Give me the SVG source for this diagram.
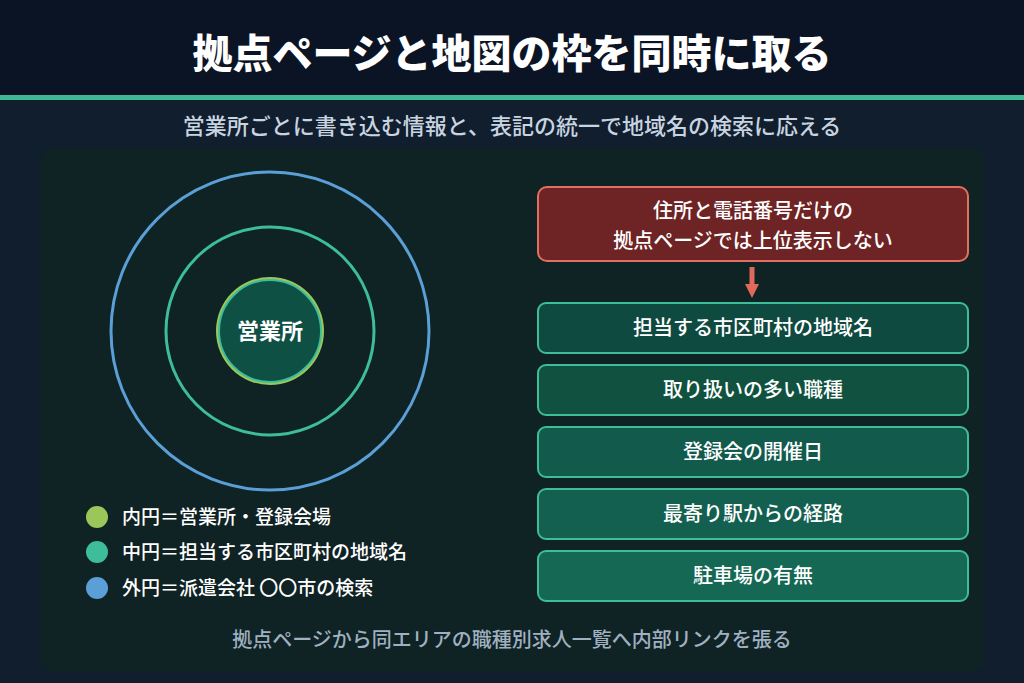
<svg xmlns="http://www.w3.org/2000/svg" width="1024" height="683" viewBox="0 0 1024 683">
<style>
text{font-family:"Noto Sans CJK JP","Noto Sans",sans-serif;text-anchor:middle}
.box{stroke:#3dbd9a;stroke-width:2}
.bt{fill:#ffffff;font-size:20px;font-weight:500}
.lg{fill:#ffffff;font-size:19px;font-weight:500;text-anchor:start}
</style>
<defs>
<marker id="ah" markerWidth="16" markerHeight="14" refX="0" refY="7" orient="auto" markerUnits="userSpaceOnUse"><path d="M0,0 L14,7 L0,14 Z" fill="#e06a5a"/></marker>
</defs>
<rect x="0" y="0" width="1024" height="683" fill="#111e2e"/>
<rect x="0" y="0" width="1024" height="95" fill="#0b1424"/>
<rect x="0" y="95" width="1024" height="5" fill="#3fb894"/>
<text x="512" y="68" fill="#ffffff" font-size="40" font-weight="900">拠点ページと地図の枠を同時に取る</text>
<text x="512" y="134" fill="#c8d4e0" font-size="22" font-weight="500">営業所ごとに書き込む情報と、表記の統一で地域名の検索に応える</text>
<rect x="40" y="148" width="945" height="524" rx="14" fill="#0f2224"/>
<g id="outer"><circle cx="270" cy="331" r="159" fill="none" stroke="#5a9fd6" stroke-width="3"/></g>
<g id="middle"><circle cx="270" cy="331" r="104" fill="none" stroke="#3dbd9a" stroke-width="3"/></g>
<g id="inner">
<circle cx="270" cy="331" r="54" fill="#9bc65a"/>
<circle cx="270" cy="331" r="51" fill="#0f5045" stroke="#3dbd9a" stroke-width="2"/>
<text x="270" y="339" fill="#ffffff" font-size="22" font-weight="700">営業所</text>
</g>
<g id="legend">
<circle cx="97" cy="517" r="11" fill="#9bc65a"/>
<text class="lg" x="122" y="524">内円＝営業所・登録会場</text>
<circle cx="97" cy="552" r="11" fill="#3dbd9a"/>
<text class="lg" x="122" y="559">中円＝担当する市区町村の地域名</text>
<circle cx="97" cy="588" r="11" fill="#5a9fd6"/>
<text class="lg" x="122" y="595">外円＝派遣会社 〇〇市の検索</text>
</g>
<g id="warn">
<rect x="538" y="187" width="430" height="74" rx="9" fill="#6e2424" stroke="#e07060" stroke-width="2"/>
<text class="bt" x="753" y="218">住所と電話番号だけの</text>
<text class="bt" x="753" y="248">拠点ページでは上位表示しない</text>
</g>
<g id="connectors">
<line x1="752" y1="267" x2="752" y2="284" stroke="#e06a5a" stroke-width="5" marker-end="url(#ah)"/>
</g>
<g id="b1"><rect class="box" x="538" y="303" width="430" height="50" rx="8" fill="#0f4a40"/><text class="bt" x="753" y="335">担当する市区町村の地域名</text></g>
<g id="b2"><rect class="box" x="538" y="365" width="430" height="50" rx="8" fill="#10523f"/><text class="bt" x="753" y="397">取り扱いの多い職種</text></g>
<g id="b3"><rect class="box" x="538" y="427" width="430" height="50" rx="8" fill="#115a4c"/><text class="bt" x="753" y="459">登録会の開催日</text></g>
<g id="b4"><rect class="box" x="538" y="489" width="430" height="50" rx="8" fill="#136050"/><text class="bt" x="753" y="521">最寄り駅からの経路</text></g>
<g id="b5"><rect class="box" x="538" y="551" width="430" height="50" rx="8" fill="#156854"/><text class="bt" x="753" y="583">駐車場の有無</text></g>
<text x="512" y="647" fill="#9fb0c0" font-size="20" font-weight="500">拠点ページから同エリアの職種別求人一覧へ内部リンクを張る</text>
</svg>
